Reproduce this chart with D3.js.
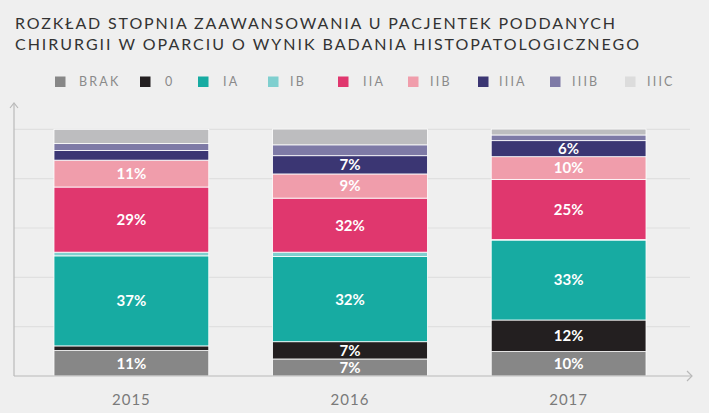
<!DOCTYPE html>
<html>
<head>
<meta charset="utf-8">
<script src="https://cdn.jsdelivr.net/npm/d3@7"></script>
<style>
  body { margin: 0; background: #efefef; }
  svg { display: block; }
</style>
</head>
<body>
<div class="chart"></div>
<script>
// data (percent of each bar)
const years = ["2015", "2016", "2017"];
const stages = ["BRAK", "0", "IA", "IB", "IIA", "IIB", "IIIA", "IIIB", "IIIC"];
const colors = ["#878787", "#231f20", "#17aba2", "#7fcfcf", "#e0376e", "#f09dab", "#3b3673", "#7e7aa6", "#bdbdbf"];
const legendColors = ["#878787", "#231f20", "#17aba2", "#7fcfcf", "#e0376e", "#f09dab", "#3b3673", "#7e7aa6", "#dcdcdc"];
const brak = [10.3, 6.9, 9.9];
const zero = [1.9, 7.0, 12.8];
const ia = [36.5, 34.5, 32.4];
const ib = [1.5, 1.8, 0.2];
const iia = [26.4, 21.9, 24.4];
const iib = [10.9, 9.8, 9.2];
const iiia = [3.9, 7.4, 6.5];
const iiib = [2.8, 4.4, 2.3];
const iiic = [5.8, 6.4, 2.4];
// printed labels on the bars (null = none)
const labelBrak = [11, 7, 10];
const labelZero = [null, 7, 12];
const labelIa = [37, 32, 33];
const labelIia = [29, 32, 25];
const labelIib = [11, 9, 10];
const labelIiia = [null, 7, 6];
const yTicks = [0, 20, 40, 60, 80, 100];

const series = [brak, zero, ia, ib, iia, iib, iiia, iiib, iiic];
const labels = [labelBrak, labelZero, labelIa, null, labelIia, labelIib, labelIiia, null, null];
const table = years.map((y, i) => {
    const row = { year: y };
    stages.forEach((s, j) => row[s] = series[j][i]);
    return row;
});

const W = 709, H = 413;
const svg = d3.select(".chart").append("svg")
    .attr("width", W)
    .attr("height", H);

// title
const title = svg.append("text")
    .attr("fill", "#333333")
    .style("font-family", "Lato, 'Open Sans', sans-serif")
    .style("font-size", "16px");
title.append("tspan").attr("x", 15).attr("y", 28.5)
    .attr("textLength", 600).attr("lengthAdjust", "spacing")
    .text("ROZKŁAD STOPNIA ZAAWANSOWANIA U PACJENTEK PODDANYCH");
title.append("tspan").attr("x", 15).attr("y", 50)
    .attr("textLength", 624).attr("lengthAdjust", "spacing")
    .text("CHIRURGII W OPARCIU O WYNIK BADANIA HISTOPATOLOGICZNEGO");

// legend (square and text x positions)
const legendX = [55, 140, 198, 268, 338, 408, 478, 550, 625];
const legendTextX = [79, 165, 223, 290, 363, 430, 499, 572, 647];
const legend = svg.append("g").attr("transform", "translate(0, 76.5)");
stages.forEach((s, i) => {
    legend.append("rect")
        .attr("x", legendX[i]).attr("y", 0)
        .attr("width", 10.5).attr("height", 10.5)
        .attr("fill", legendColors[i]);
    legend.append("text")
        .attr("x", legendTextX[i]).attr("y", 9.6)
        .attr("fill", "#8a8a8a")
        .style("font-family", "Lato, sans-serif")
        .style("font-size", "12.5px")
        .style("letter-spacing", "2.2px")
        .text(s);
});

// scales
const x = d3.scaleBand()
    .domain(years)
    .range([54, 646])
    .paddingInner(0.292)
    .paddingOuter(0);
const y = d3.scaleLinear()
    .domain([0, 100])
    .range([376, 129.3]);

// grid
svg.append("g")
    .selectAll("line")
    .data(yTicks.slice(1))
    .join("line")
    .attr("x1", 14).attr("x2", 690)
    .attr("y1", d => y(d)).attr("y2", d => y(d))
    .attr("stroke", "#e0e0e0")
    .attr("stroke-width", 1.2);

// stacked bars
const stack = d3.stack().keys(stages)(table);
const layers = svg.append("g")
    .selectAll("g")
    .data(stack)
    .join("g")
    .attr("fill", (d, i) => colors[i]);
layers.selectAll("rect")
    .data(d => d)
    .join("rect")
    .attr("x", d => x(d.data.year))
    .attr("width", x.bandwidth())
    .attr("y", d => y(d[1]))
    .attr("height", d => y(d[0]) - y(d[1]))
    .attr("stroke", "#ffffff")
    .attr("stroke-width", 0.8);

// value labels
stack.forEach((layer, j) => {
    if (!labels[j]) return;
    svg.append("g")
        .selectAll("text")
        .data(layer.map((d, i) => ({ d, v: labels[j][i] })).filter(e => e.v !== null))
        .join("text")
        .attr("x", e => x(e.d.data.year) + x.bandwidth() / 2)
        .attr("y", e => (y(e.d[0]) + y(e.d[1])) / 2)
        .attr("dy", "0.36em")
        .attr("text-anchor", "middle")
        .attr("fill", "#ffffff")
        .style("font-family", "Lato, sans-serif")
        .style("font-weight", "bold")
        .style("font-size", "15px")
        .text(e => e.v + "%");
});

// axes
const axisColor = "#b9b9b9";
svg.append("line")
    .attr("x1", 14).attr("x2", 14).attr("y1", 376).attr("y2", 103)
    .attr("stroke", axisColor).attr("stroke-width", 1.2);
svg.append("path")
    .attr("d", "M10,108L14,103L18,108")
    .attr("fill", "none").attr("stroke", axisColor).attr("stroke-width", 1.2);
svg.append("line")
    .attr("x1", 14).attr("x2", 692).attr("y1", 376).attr("y2", 376)
    .attr("stroke", axisColor).attr("stroke-width", 1.2);
svg.append("path")
    .attr("d", "M687,371L692,376L687,381")
    .attr("fill", "none").attr("stroke", axisColor).attr("stroke-width", 1.2);

const xAxis = d3.axisBottom(x).tickSize(0).tickPadding(0);
svg.append("g")
    .attr("transform", "translate(0, 376)")
    .call(xAxis)
    .call(g => g.select(".domain").remove())
    .selectAll("text")
    .attr("y", 29)
    .attr("dy", 0)
    .attr("fill", "#7a7a7a")
    .style("font-family", "Lato, sans-serif")
    .style("font-size", "15px")
    .style("letter-spacing", "1px");
</script>
</body>
</html>
